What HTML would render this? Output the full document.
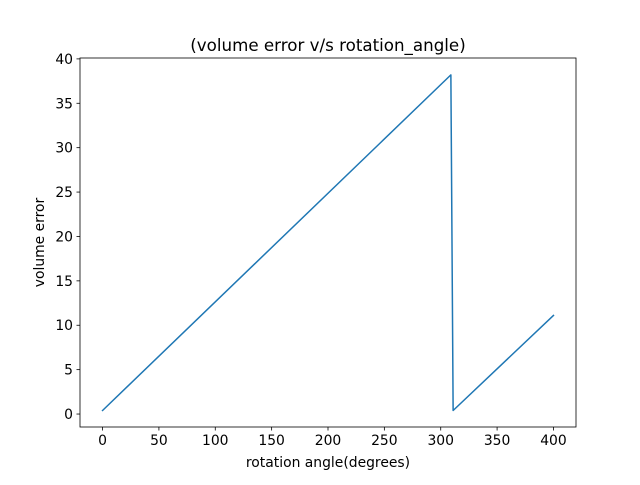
<!DOCTYPE html>
<html><head><meta charset="utf-8"><style>
body{margin:0;background:#fff;}
svg text{font-family:"DejaVu Sans","Liberation Sans",sans-serif;fill:#000;}
</style></head><body>
<svg id="chart" width="640" height="480" xmlns="http://www.w3.org/2000/svg">
<rect width="640" height="480" fill="#fff"/>
<g id="plot"></g>
</svg>
<script>
const xValues = [0, 309, 311, 400];
const yValues = [0.4, 38.2, 0.4, 11.1];
const xTicks = [0, 50, 100, 150, 200, 250, 300, 350, 400];
const yTicks = [0, 5, 10, 15, 20, 25, 30, 35, 40];

const L=80,R=576,T=58,B=427;
const xmin=-20,xmax=420,ymin=-1.46,ymax=40.1;
const sx=v=>L+(v-xmin)/(xmax-xmin)*(R-L);
const sy=v=>B-(v-ymin)/(ymax-ymin)*(B-T);
const ns="http://www.w3.org/2000/svg";
const g=document.getElementById('plot');
function mk(t,a,p){const e=document.createElementNS(ns,t);for(const k in a)e.setAttribute(k,a[k]);(p||g).appendChild(e);return e;}

xTicks.forEach(v=>{
  const x=sx(v);
  const tk=mk('line',{x1:x,x2:x,y1:B,y2:B+3.5,stroke:'#000','stroke-width':0.8});
  
  
  const t=mk('text',{x:x,y:B+18,'font-size':13.9,'text-anchor':'middle'});
  t.textContent=v;
  
  
});
yTicks.forEach(v=>{
  const y=sy(v);
  const tk=mk('line',{x1:L-3.5,x2:L,y1:y,y2:y,stroke:'#000','stroke-width':0.8});
  
  
  const t=mk('text',{x:L-7,y:y+5,'font-size':13.9,'text-anchor':'end'});
  t.textContent=v;
  
  
});

const line=mk('polyline',{points:xValues.map((v,i)=>sx(v)+','+sy(yValues[i])).join(' '),fill:'none',stroke:'#1f77b4','stroke-width':1.5,'stroke-linejoin':'round','stroke-linecap':'square'});



const frame=mk('rect',{x:L,y:T,width:R-L,height:B-T,fill:'none',stroke:'#000','stroke-width':0.8});



const title=mk('text',{x:(L+R)/2,y:T-7,'font-size':16.7,'text-anchor':'middle'});
title.textContent='(volume error v/s rotation_angle)';



const xl=mk('text',{x:(L+R)/2,y:467,'font-size':13.9,'text-anchor':'middle'});
xl.textContent='rotation angle(degrees)';



const yl=mk('text',{x:0,y:0,'font-size':13.9,'text-anchor':'middle',transform:'translate(44,'+((T+B)/2)+') rotate(-90)'});
yl.textContent='volume error';


</script>
</body></html>
